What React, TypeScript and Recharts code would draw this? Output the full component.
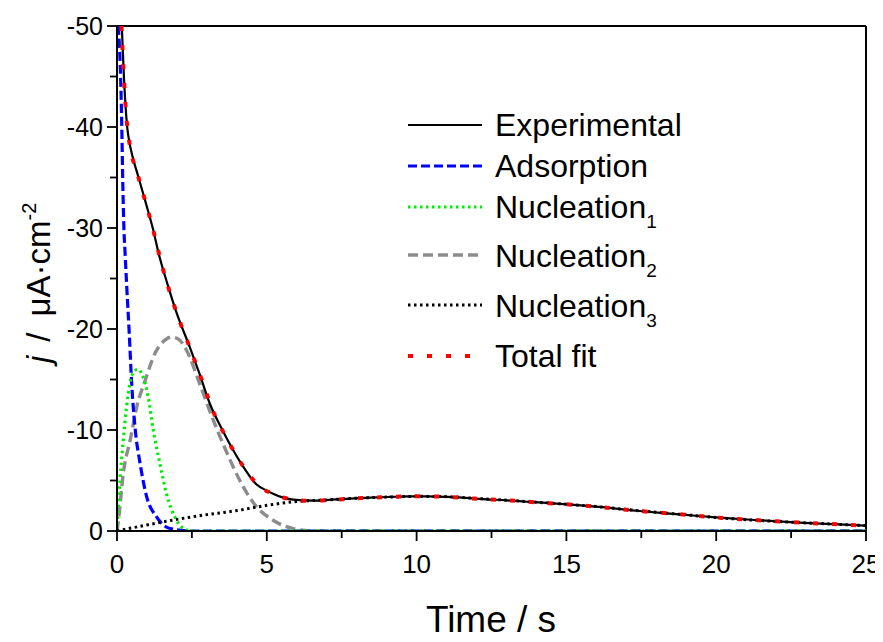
import React from 'react';
import { LineChart, Line, XAxis, YAxis, ReferenceLine, Legend } from 'recharts';

const FONT = '"Liberation Sans", Arial, Helvetica, sans-serif';

// Time / s and current density j / µA·cm-2 per series
const expT = [0.16, 0.23, 0.34, 0.42, 0.5, 0.71, 0.96, 1.21, 1.38, 1.7, 1.99, 2.43, 2.75, 3.1, 3.5, 3.88, 4.25, 4.66, 5.0, 5.21, 5.5, 5.88, 6.55, 7.16, 7.78, 8.44, 9.1, 9.77, 10.38, 11.05, 11.66, 12.33, 13.0, 13.55, 14.22, 14.9, 16.1, 17.44, 18.77, 20.1, 21.44, 22.77, 24.1, 25];
const expJ = [-50, -45, -40, -38.4, -37.3, -35.1, -32.5, -29.8, -27.6, -24.3, -21.6, -18.2, -15.6, -12.6, -10.1, -8.0, -6.2, -4.6, -4.0, -3.7, -3.35, -3.1, -3.0, -3.1, -3.2, -3.3, -3.37, -3.43, -3.43, -3.37, -3.27, -3.14, -3.04, -2.92, -2.8, -2.66, -2.38, -1.98, -1.65, -1.32, -1.06, -0.83, -0.66, -0.52];

const adsT = [0.04, 0.12, 0.16, 0.19, 0.23, 0.27, 0.32, 0.41, 0.49, 0.6, 0.77, 0.99, 1.32, 1.77, 2.5, 25];
const adsJ = [-50, -45, -40, -35, -30, -27.5, -24.5, -19.5, -14.6, -10.3, -6.7, -3.4, -1.4, -0.25, 0, 0];

const nuc1T = [0, 0.03, 0.1, 0.21, 0.32, 0.43, 0.6, 0.7, 0.82, 1.04, 1.21, 1.43, 1.65, 1.93, 2.32, 2.6, 25];
const nuc1J = [0, -1.5, -5, -9, -12.3, -14.6, -15.9, -16, -15.6, -13.3, -10, -6.7, -3.7, -1.4, -0.1, 0, 0];

const nuc2T = [0, 0.05, 0.21, 0.44, 0.66, 0.94, 1.27, 1.6, 1.82, 2.05, 2.32, 2.77, 3.21, 3.66, 4.1, 4.55, 5.21, 5.88, 6.6, 25];
const nuc2J = [0, -1.1, -5.7, -9, -12.3, -14.9, -17.6, -18.9, -19.2, -19.0, -17.9, -14.5, -11.0, -7.8, -5.0, -2.8, -1.06, -0.24, 0, 0];

const nuc3T = [0, 1, 2, 3, 4, 5, 6, 7, 8, 9, 10, 11, 12, 13, 14, 15, 16, 17, 18, 19, 20, 21, 22, 23, 24, 25];
const nuc3J = [0, -0.6, -1.15, -1.62, -2.02, -2.54, -2.92, -3.08, -3.25, -3.36, -3.43, -3.4, -3.22, -3.05, -2.85, -2.65, -2.42, -2.13, -1.85, -1.6, -1.34, -1.12, -0.95, -0.8, -0.67, -0.53];

const fitT = [0.15, 0.22, 0.3, 0.45, 0.65, 0.9, 1.2, 1.5, 1.8, 2.1, 2.4, 2.8, 3.2, 3.6, 4.0, 4.4, 4.8, 5.2, 5.6, 6.0, 6.5, 7, 8, 9, 10, 11, 12, 13, 14, 15, 16, 17, 18, 19, 20, 21, 22, 23, 24, 25];
const fitJ = [-50, -45.5, -41.5, -37.8, -35.7, -33.1, -29.9, -26.3, -23.3, -20.7, -18.4, -15.2, -11.9, -9.5, -7.4, -5.6, -4.3, -3.7, -3.27, -3.07, -2.98, -3.05, -3.23, -3.36, -3.44, -3.38, -3.2, -3.04, -2.84, -2.64, -2.4, -2.1, -1.84, -1.6, -1.34, -1.14, -0.96, -0.8, -0.67, -0.53];

const xTicks = [0, 2.5, 5, 7.5, 10, 12.5, 15, 17.5, 20, 22.5, 25];
const yTicks = [-50, -45, -40, -35, -30, -25, -20, -15, -10, -5, 0];

const seriesNames = ['Experimental', 'Adsorption', 'Nucleation', 'Nucleation', 'Nucleation', 'Total fit'];
const seriesSubs = ['', '', '1', '2', '3', ''];

const zip = (t: number[], j: number[]) => t.map((v, i) => ({ t: v, j: j[i] }));

const expData = zip(expT, expJ);
const adsData = zip(adsT, adsJ);
const nuc1Data = zip(nuc1T, nuc1J);
const nuc2Data = zip(nuc2T, nuc2J);
const nuc3Data = zip(nuc3T, nuc3J);
const fitData = zip(fitT, fitJ);

const styles = [
  { color: '#000000', width: 2.2, dash: undefined as string | undefined },
  { color: '#0000ff', width: 3.2, dash: '9 4' },
  { color: '#00ee00', width: 3.2, dash: '2.5 3.5' },
  { color: '#8c8c8c', width: 3.4, dash: '10 5' },
  { color: '#000000', width: 3, dash: '2.5 3.5' },
  { color: '#ff0000', width: 4, dash: '5 14' },
];

const XTick = (props: any) => {
  const { x, y, payload } = props;
  const major = payload.value % 5 === 0;
  return (
    <g>
      <line x1={x} x2={x} y1={y} y2={y + (major ? 10 : 7)} stroke="#000" strokeWidth={1.8} />
      {major && (
        <text x={x} y={y + 42} textAnchor="middle" fontSize={26} fontFamily={FONT} fill="#000">
          {payload.value}
        </text>
      )}
    </g>
  );
};

const YTick = (props: any) => {
  const { x, y, payload } = props;
  const major = payload.value % 10 === 0;
  return (
    <g>
      <line x1={x - (major ? 10 : 7)} x2={x} y1={y} y2={y} stroke="#000" strokeWidth={1.8} />
      {major && (
        <text x={x - 14} y={y} dy="0.35em" textAnchor="end" fontSize={25} fontFamily={FONT} fill="#000">
          {payload.value}
        </text>
      )}
    </g>
  );
};

const YLabel = () => (
  <text transform="translate(42,355) rotate(-90)" fontSize={33} fontFamily={FONT} fill="#000" style={{ whiteSpace: 'pre' }}>
    <tspan fontStyle="italic">j</tspan>
    <tspan dx={14}>/</tspan>
    <tspan dx={16}>μA·cm</tspan>
    <tspan dy={-14} fontSize={20}>-2</tspan>
  </text>
);

const XLabel = () => (
  <text x={483} y={624} textAnchor="middle" fontSize={37} fontFamily={FONT} fill="#000" style={{ whiteSpace: 'pre' }}>
    Time / s
  </text>
);

const lineYs = [25, 66, 107, 155, 205, 256];
const baseYs = [36, 77, 118, 167, 217, 267];

const LegendBox = () => (
  <svg width={320} height={285} style={{ display: 'block', overflow: 'visible' }}>
    {seriesNames.map((name, i) => (
      <g key={i}>
        <line
          x1={8}
          x2={82}
          y1={lineYs[i]}
          y2={lineYs[i]}
          stroke={styles[i].color}
          strokeWidth={styles[i].width}
          strokeDasharray={styles[i].dash}
        />
        <text x={95} y={baseYs[i]} fontSize={32} fontFamily={FONT} fill="#000">
          {name}
          {seriesSubs[i] && (
            <tspan dy={10} fontSize={19}>
              {seriesSubs[i]}
            </tspan>
          )}
        </text>
      </g>
    ))}
  </svg>
);

export default function App() {
  const series = [
    { data: nuc2Data, s: styles[3], name: 'Nucleation2' },
    { data: adsData, s: styles[1], name: 'Adsorption' },
    { data: nuc1Data, s: styles[2], name: 'Nucleation1' },
    { data: nuc3Data, s: styles[4], name: 'Nucleation3' },
    { data: expData, s: styles[0], name: 'Experimental' },
    { data: fitData, s: styles[5], name: 'Total fit' },
  ];
  return (
    <div style={{ width: 875, height: 634, background: '#fff' }}>
      <LineChart width={875} height={634} margin={{ top: 18, right: 17, bottom: 11, left: 0 }}>
        <XAxis
          dataKey="t"
          type="number"
          domain={[0, 25]}
          ticks={xTicks}
          allowDataOverflow
          height={100}
          tickSize={0}
          tickMargin={0}
          tickLine={false}
          tick={<XTick />}
          axisLine={{ stroke: '#000', strokeWidth: 2 }}
          label={<XLabel />}
        />
        <YAxis
          type="number"
          domain={[-50, 0]}
          ticks={yTicks}
          reversed
          allowDataOverflow
          width={109}
          tickSize={0}
          tickMargin={0}
          tickLine={false}
          tick={<YTick />}
          axisLine={{ stroke: '#000', strokeWidth: 2 }}
          label={<YLabel />}
        />
        <ReferenceLine y={-50} stroke="#000" strokeWidth={2} />
        <ReferenceLine x={25} stroke="#000" strokeWidth={2} />
        {series.map((se) => (
          <Line
            key={se.name}
            data={se.data}
            dataKey="j"
            name={se.name}
            type="monotone"
            stroke={se.s.color}
            strokeWidth={se.s.width}
            strokeDasharray={se.s.dash}
            dot={false}
            activeDot={false}
            isAnimationActive={false}
          />
        ))}
        <Legend
          layout="vertical"
          align="center"
          verticalAlign="middle"
          wrapperStyle={{ left: 392, top: 92, width: 320, height: 285 }}
          content={() => <LegendBox />}
        />
      </LineChart>
    </div>
  );
}
